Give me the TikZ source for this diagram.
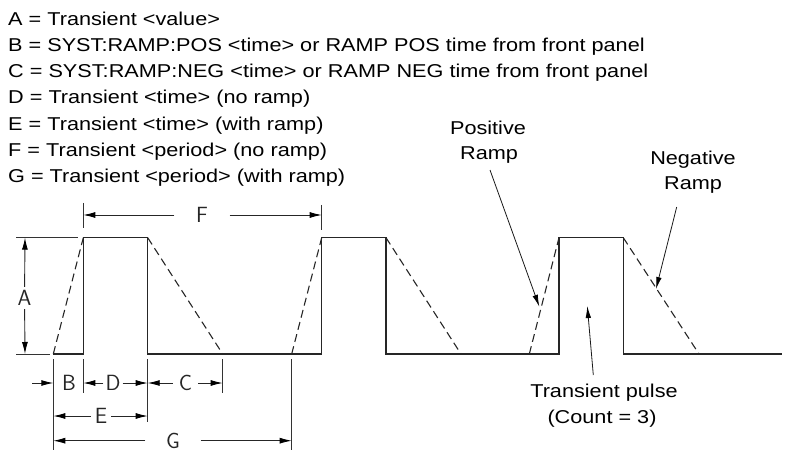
\documentclass[tikz,border=0pt]{standalone}
\usepackage{fontspec}
\setmainfont{Liberation Sans}
\newfontfamily\lgfont[FakeStretch=1.165]{Liberation Sans}
\usetikzlibrary{arrows.meta}
\begin{document}
\begin{tikzpicture}[x=1pt,y=-1pt,
  wave/.style={line width=1.1pt, draw=black!85},
  ramp/.style={wave, dash pattern=on 8pt off 4.5pt},
  ext/.style={line width=0.9pt, draw=black!80},
  dimline/.style={line width=0.9pt, draw=black!85, -{Latex[length=12pt,width=6pt,fill=black,color=black]}},
  dimlbl/.style={font=\sffamily\fontsize{22}{22}\selectfont, inner sep=0pt, text=black!85},
  legend/.style={font=\lgfont\fontsize{18.6}{22}\selectfont, anchor=base west, inner sep=0pt},
  note/.style={font=\lgfont\fontsize{18.6}{22}\selectfont, anchor=base, inner sep=0pt},
  ptr/.style={line width=0.8pt, draw=black!90, -{Latex[length=12pt,width=5.5pt,fill=black,color=black]}}
]
\useasboundingbox (0,0) rectangle (786,454);
% legend
\node[legend] (l1) at (8,25.7)  {A = Transient <value>};
\node[legend] (l2) at (8,51.8)  {B = SYST:RAMP:POS <time> or RAMP POS time from front panel};
\node[legend] (l3) at (8,77.9)  {C = SYST:RAMP:NEG <time> or RAMP NEG time from front panel};
\node[legend] (l4) at (8,104.0) {D = Transient <time> (no ramp)};
\node[legend] (l5) at (8,130.1) {E = Transient <time> (with ramp)};
\node[legend] (l6) at (8,156.2) {F = Transient <period> (no ramp)};
\node[legend] (l7) at (8,182.3) {G = Transient <period> (with ramp)};
% levels
\def\hi{237.7}\def\lo{354}
% waveform solid
\draw[wave] (53.3,\lo) -- (83.3,\lo) -- (83.3,\hi) -- (147.7,\hi) -- (147.7,\lo)
  -- (321.7,\lo) -- (321.7,\hi) -- (386,\hi) -- (386,\lo)
  -- (559,\lo) -- (559,\hi) -- (623.3,\hi) -- (623.3,\lo) -- (782,\lo);
% ramps
\draw[ramp] (53.3,\lo) -- (83.3,\hi);
\draw[ramp] (147.7,\hi) -- (222.7,\lo);
\draw[ramp] (291.7,\lo) -- (321.7,\hi);
\draw[ramp] (386,\hi) -- (461,\lo);
\draw[ramp] (529.3,\lo) -- (559,\hi);
\draw[ramp] (623.3,\hi) -- (699,\lo);
% extension lines
\draw[ext] (16,\hi) -- (78,\hi);
\draw[ext] (16,\lo) -- (50,\lo);
\draw[ext] (83.3,203) -- (83.3,228);
\draw[ext] (321.7,205) -- (321.7,230);
\draw[ext] (53.3,359) -- (53.3,450);
\draw[ext] (83.3,359) -- (83.3,393);
\draw[ext] (147.7,359) -- (147.7,422);
\draw[ext] (222.7,359) -- (222.7,393);
\draw[ext] (291.7,359) -- (291.7,450);
% dimension points
\coordinate (Atop) at (25,\hi);
\coordinate (Abot) at (25,\lo);
\coordinate (Fl) at (83.3,215);
\coordinate (Fr) at (321.7,215);
\coordinate (Bstart) at (32,383);
\coordinate (Bl) at (53.3,383);
\coordinate (Dl) at (83.3,383);
\coordinate (Dr) at (147.7,383);
\coordinate (Cr) at (222.7,383);
\coordinate (El) at (53.3,416);
\coordinate (Er) at (147.7,416);
\coordinate (Gl) at (53.3,440.7);
\coordinate (Gr) at (291.7,440.7);
% dimension labels
\node[dimlbl, minimum height=22pt] (A) at (24.5,298) {A};
\node[dimlbl, minimum width=55pt] (F) at (202,215) {F};
\node[dimlbl] (B) at (69,383) {B};
\node[dimlbl, minimum width=19pt] (D) at (113,383) {D};
\node[dimlbl, minimum width=25pt] (C) at (185.5,383) {C};
\node[dimlbl, minimum width=20pt] (E) at (101,416) {E};
\node[dimlbl, minimum width=55pt] (G) at (173,440.7) {G};
% dimension lines
\draw[dimline] (A) -- (Atop);
\draw[dimline] (A) -- (Abot);
\draw[dimline] (F) -- (Fl);
\draw[dimline] (F) -- (Fr);
\draw[dimline] (Bstart) -- (Bl);
\draw[dimline] (D) -- (Dl);
\draw[dimline] (D) -- (Dr);
\draw[dimline] (C) -- (Dr);
\draw[dimline] (C) -- (Cr);
\draw[dimline] (E) -- (El);
\draw[dimline] (E) -- (Er);
\draw[dimline] (G) -- (Gl);
\draw[dimline] (G) -- (Gr);
% annotations
\node[note] (pos1) at (488,135) {Positive};
\node[note] (pos2) at (489,160) {Ramp};
\node[note] (neg1) at (693,165) {Negative};
\node[note] (neg2) at (693,190) {Ramp};
\node[note] (tp1) at (604,397) {Transient pulse};
\node[note] (tp2) at (602,423) {(Count = 3)};
\coordinate (posS) at (490,170);
\coordinate (posT) at (539.3,306.7);
\coordinate (negS) at (676.7,207);
\coordinate (negT) at (656,289);
\coordinate (tpS) at (593.3,375);
\coordinate (tpT) at (587.3,306);
\draw[ptr] (posS) -- (posT);
\draw[ptr] (negS) -- (negT);
\draw[ptr] (tpS) -- (tpT);
\end{tikzpicture}
\end{document}
